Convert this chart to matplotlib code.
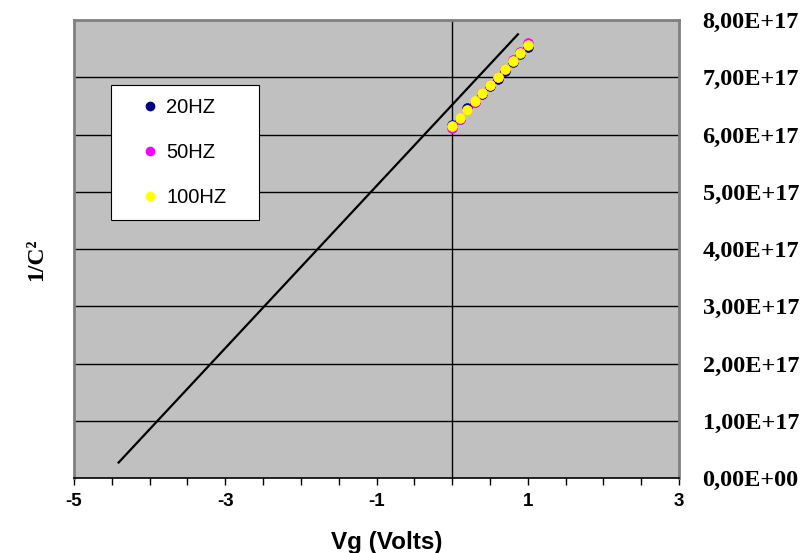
import matplotlib
matplotlib.use("Agg")
import matplotlib.pyplot as plt
from matplotlib.ticker import MultipleLocator, FixedLocator
from matplotlib.lines import Line2D

# Data (1/C^2 in units of 1e17)
vg = [0.0, 0.1, 0.2, 0.3, 0.4, 0.5, 0.6, 0.7, 0.8, 0.9, 1.0]
c20 = [6.17, 6.27, 6.46, 6.56, 6.70, 6.84, 6.97, 7.11, 7.26, 7.40, 7.53]
c50 = [6.11, 6.27, 6.42, 6.57, 6.72, 6.86, 7.00, 7.15, 7.30, 7.44, 7.59]
c100 = [6.14, 6.29, 6.43, 6.58, 6.73, 6.86, 7.00, 7.14, 7.29, 7.43, 7.57]
fit_x = [-4.41, 0.87]
fit_y = [0.27, 7.75]
scale = 1e17
ytick_vals = [0, 1, 2, 3, 4, 5, 6, 7, 8]
ytick_labels = ["0,00E+00", "1,00E+17", "2,00E+17", "3,00E+17", "4,00E+17",
                "5,00E+17", "6,00E+17", "7,00E+17", "8,00E+17"]
xtick_vals = [-5, -3, -1, 1, 3]
labels = ["20HZ", "50HZ", "100HZ"]
colors = ["#000080", "#FF00FF", "#FFFF00"]

fig = plt.figure(figsize=(8.11, 5.53), dpi=100)
ax = fig.add_axes([74/811, 75/553, 605/811, 458/553])
ax.set_facecolor("#C0C0C0")
ax.set_xlim(-5, 3)
ax.set_ylim(0, 8 * scale)

# gridlines
for v in ytick_vals[1:-1]:
    ax.axhline(v * scale, color="black", lw=1.0, zorder=1)
ax.axvline(0, color="black", lw=1.0, zorder=1)

# fit line
ax.plot(fit_x, [v * scale for v in fit_y], color="black", lw=1.6, zorder=2)

for ys, col in zip([c20, c50, c100], colors):
    ax.plot(vg, [v * scale for v in ys], linestyle="none", marker="o",
            markersize=7, markerfacecolor=col, markeredgecolor=col,
            markeredgewidth=0.5, zorder=3)

# spines
for s in ["left", "top", "right"]:
    ax.spines[s].set_color("#808080")
    ax.spines[s].set_linewidth(2)
ax.spines["bottom"].set_color("black")
ax.spines["bottom"].set_linewidth(1.2)

# x ticks
ax.xaxis.set_major_locator(FixedLocator(xtick_vals))
ax.xaxis.set_minor_locator(MultipleLocator(0.5))
ax.set_xticklabels([str(v) for v in xtick_vals], fontfamily="Liberation Sans",
                   fontweight="bold", fontsize=13.5)
ax.tick_params(axis="x", which="both", direction="out", length=5, width=1,
               color="black", pad=6)

# y ticks on right
ax.yaxis.tick_right()
ax.set_yticks([v * scale for v in ytick_vals])
ax.set_yticklabels(ytick_labels, fontfamily="Liberation Serif",
                   fontweight="bold", fontsize=17.5)
ax.tick_params(axis="y", which="both", length=0, pad=17)

ax.set_xlabel("Vg (Volts)", fontfamily="Liberation Sans", fontweight="bold",
              fontsize=17.5)
ax.xaxis.set_label_coords((387 - 74) / 605, (478 - 531) / 458)
fig.text(37/811, 1 - 260/553, "1/C²", rotation=90, ha="center", va="center",
         fontfamily="Liberation Serif", fontweight="bold", fontsize=17)

handles = [Line2D([], [], linestyle="none", marker="o", markersize=6,
                  markerfacecolor=c, markeredgecolor=c) for c in colors]
leg = ax.legend(handles, labels, loc="upper left",
                bbox_to_anchor=((111 - 74) / 605, (478 - 90) / 458,
                                (259 - 111) / 605, 5 / 458),
                mode="expand",
                frameon=True, fancybox=False, edgecolor="black",
                facecolor="white", framealpha=1,
                prop={"family": "Liberation Sans", "size": 14.5},
                labelspacing=1.28, handlelength=2.6, handletextpad=-0.5,
                borderpad=0.65, borderaxespad=0)
leg.get_frame().set_linewidth(0.8)

fig.savefig("out.png", dpi=100)
